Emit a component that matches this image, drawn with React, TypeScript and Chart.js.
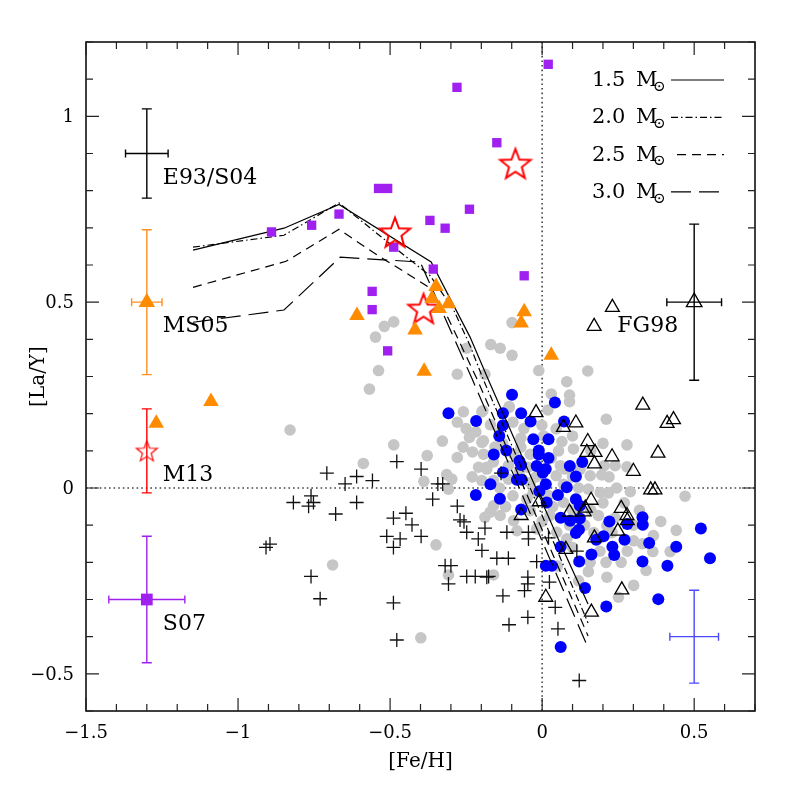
import { useEffect, useRef } from "react";
import { Chart, registerables } from "chart.js";

Chart.register(...registerables);

type XY = [number, number];

// ---------- axis ticks ----------
const xMajorTicks = [-1.5, -1, -0.5, 0, 0.5];
const xTickLabels = ["\u22121.5", "\u22121", "\u22120.5", "0", "0.5"];
const yMajorTicks = [-0.5, 0, 0.5, 1];
const yTickLabels = ["\u22120.5", "0", "0.5", "1"];

// ---------- data ----------
const greyStars: XY[] = [
  [-0.099, 0.445], [-0.488, 0.447], [-0.519, 0.435], [-0.548, 0.406], [-0.169, 0.386], [-0.138, 0.376],
  [-0.249, 0.376], [-0.099, 0.357], [-0.538, 0.316], [-0.279, 0.306], [-0.188, 0.306], [-0.011, 0.316],
  [-0.568, 0.266], [-0.109, 0.217], [-0.259, 0.205], [-0.198, 0.205], [-0.279, 0.177], [-0.218, 0.151],
  [-0.239, 0.136], [-0.198, 0.123], [-0.328, 0.126], [-0.488, 0.116], [-0.229, 0.097], [-0.378, 0.087],
  [-0.279, 0.082], [-0.588, 0.066], [-0.209, 0.056], [-0.182, 0.056], [-0.314, 0.036], [-0.297, 0.024],
  [-0.389, 0.018], [-0.198, 0.02], [-0.829, 0.156], [-0.308, -0.003], [-0.188, -0.079], [-0.171, -0.065],
  [-0.349, -0.153], [-0.689, -0.207], [-0.308, -0.234], [-0.16, -0.234], [-0.399, -0.403],
  [0.15, 0.315], [0.081, 0.286], [0.03, 0.253], [0.09, 0.25], [0.09, 0.232], [-0.195, 0.208],
  [-0.108, 0.219], [0.019, 0.21], [0.211, 0.185], [-0.096, 0.177], [-0.001, 0.169], [0.046, 0.159],
  [0.279, 0.116], [-0.193, 0.127], [-0.07, 0.134], [0.065, 0.125], [0.103, 0.105], [-0.193, 0.091],
  [0.054, 0.1], [-0.094, 0.091], [-0.039, 0.091], [0.24, 0.06], [0.204, 0.06], [0.279, 0.057],
  [-0.182, 0.051], [-0.111, 0.06], [0.076, 0.051], [0.125, 0.051], [-0.047, 0.056], [0.046, 0.033],
  [0.158, 0.033], [0.196, 0.035], [-0.111, 0.024], [-0.039, 0.015], [-0.096, -0.021], [-0.029, -0.012],
  [0.152, -0.003], [0.191, -0.012], [0.218, -0.013], [0.07, -0.039], [-0.16, -0.048], [-0.138, -0.074],
  [-0.094, -0.088], [-0.039, -0.061], [0.026, -0.074], [0.185, -0.074], [0.213, -0.101], [0.301, -0.142],
  [0.441, -0.114], [0.366, -0.128], [0.364, -0.171], [0.421, -0.171], [-0.083, -0.115], [-0.018, -0.11],
  [0.048, -0.119], [0.081, -0.137], [0.158, -0.2], [0.47, -0.022], [0.342, -0.222], [0.213, -0.24],
  [0.152, -0.225], [0.301, -0.262], [0.251, -0.294],
  [-0.13, 0.12], [-0.155, 0.11], [-0.06, 0.16], [0.005, 0.14], [-0.075, 0.045], [-0.16, 0.02],
  [-0.14, 0.0], [-0.05, -0.03], [-0.12, -0.05], [0.0, -0.09], [0.035, -0.05], [0.1, -0.06],
  [0.14, -0.1], [0.17, -0.12], [0.23, -0.12], [0.26, -0.2], [0.1, -0.16], [0.19, -0.17],
  [0.05, -0.21], [0.12, -0.25], [0.27, -0.04], [0.32, -0.06], [0.07, 0.01], [0.12, 0.0],
  [0.245, 0.0], [0.29, -0.01], [-0.02, 0.03], [0.03, 0.08], [0.16, 0.1], [0.2, 0.12], [0.1, 0.14],
  [-0.25, 0.16], [-0.17, 0.17], [-0.14, 0.15], [-0.26, 0.11], [-0.16, 0.07], [-0.23, 0.03],
  [-0.07, 0.11], [0.06, 0.06], [0.02, -0.02], [0.09, -0.1], [0.2, -0.04], [0.16, -0.06],
  [0.24, -0.08], [0.3, -0.1], [0.33, -0.15], [0.21, -0.2], [0.28, -0.17], [0.39, -0.09],
  [0.1, 0.03], [0.22, 0.03],
];

const blueStars: XY[] = [
  [-0.099, 0.251], [0.042, 0.23], [-0.308, 0.201], [-0.217, 0.18], [-0.129, 0.201], [-0.069, 0.201],
  [-0.038, 0.179], [0.072, 0.179], [-0.129, 0.169], [-0.141, 0.14], [-0.029, 0.131], [0.021, 0.131],
  [-0.118, 0.101], [-0.011, 0.101], [-0.159, 0.09], [-0.011, 0.09], [0.021, 0.081], [-0.075, 0.073],
  [-0.069, 0.062], [0.132, 0.07], [0.091, 0.059], [-0.018, 0.059], [0.012, 0.051], [-0.129, 0.042],
  [0.002, 0.041], [0.111, 0.031], [-0.083, 0.022], [-0.067, 0.022], [0.012, 0.01], [-0.17, 0.01],
  [0.081, 0.002], [-0.009, -0.009], [-0.139, -0.029], [-0.218, -0.019], [0.052, -0.019], [0.111, -0.03],
  [0.015, -0.039], [0.124, -0.048], [-0.069, -0.058], [0.061, -0.08], [0.092, -0.088], [0.124, -0.082],
  [0.121, -0.112], [0.111, -0.121], [0.221, -0.09], [0.28, -0.097], [0.33, -0.079], [0.331, -0.099],
  [0.271, -0.139], [0.202, -0.13], [0.178, -0.139], [0.352, -0.148], [0.231, -0.158], [0.441, -0.158],
  [0.061, -0.158], [0.162, -0.179], [0.237, -0.18], [0.122, -0.198], [0.33, -0.198], [0.412, -0.209],
  [0.012, -0.209], [0.032, -0.209], [0.522, -0.109], [0.552, -0.189], [0.141, -0.269], [0.382, -0.299],
  [0.211, -0.319], [0.061, -0.428],
];

const plusStars: XY[] = [
  [-0.478, 0.071], [-0.708, 0.04], [-0.61, 0.031], [-0.558, 0.02], [-0.648, 0.011], [-0.398, 0.051],
  [-0.343, 0.011], [-0.327, 0.011], [-0.36, -0.03], [-0.76, -0.021], [-0.752, -0.039], [-0.768, -0.049],
  [-0.818, -0.039], [-0.61, -0.039], [-0.679, -0.07], [-0.279, -0.049], [-0.489, -0.081], [-0.448, -0.068],
  [-0.428, -0.099], [-0.27, -0.086], [-0.257, -0.091], [-0.248, -0.119], [-0.188, -0.108], [-0.511, -0.13],
  [-0.467, -0.137], [-0.398, -0.13], [-0.489, -0.16], [-0.21, -0.137], [-0.198, -0.168], [-0.895, -0.151],
  [-0.908, -0.16], [-0.149, -0.189], [-0.319, -0.209], [-0.3, -0.209], [-0.76, -0.238], [-0.248, -0.238],
  [-0.22, -0.238], [-0.176, -0.238], [-0.308, -0.258], [-0.73, -0.298], [-0.489, -0.309], [-0.478, -0.409],
  [-0.111, -0.189], [-0.018, -0.198], [-0.182, -0.24], [-0.047, -0.24], [-0.047, -0.258], [-0.058, -0.276],
  [0.024, -0.253], [-0.129, -0.29], [0.043, -0.321], [-0.047, -0.348], [-0.109, -0.368], [0.052, -0.379],
  [0.122, -0.518], [0.114, -0.17], [-0.135, 0.04], [-0.116, -0.119], [-0.045, -0.119], [-0.045, -0.137],
  [0.021, -0.134],
];

const fg98Stars: XY[] = [
  [-0.02, 0.203], [0.331, 0.223], [0.411, 0.174], [0.432, 0.184], [0.07, 0.163], [0.111, 0.175],
  [0.15, 0.125], [0.147, 0.096], [0.174, 0.096], [0.172, 0.065], [0.23, 0.084], [0.381, 0.094],
  [0.3, 0.045], [0.357, -0.005], [0.371, -0.005], [-0.009, -0.037], [0.161, -0.033], [-0.069, -0.074],
  [0.09, -0.065], [0.138, -0.064], [0.142, -0.054], [0.26, -0.055], [0.279, -0.074], [0.28, -0.088],
  [0.249, -0.116], [0.172, -0.134], [0.078, -0.165], [0.262, -0.274], [0.012, -0.294], [0.162, -0.334],
  [0.231, 0.486], [0.171, 0.435],
];

const ms05Stars: XY[] = [
  [-1.269, 0.174], [-1.089, 0.233], [-0.609, 0.464], [-0.418, 0.425], [-0.388, 0.314], [-0.349, 0.542],
  [-0.362, 0.51], [-0.308, 0.496], [-0.339, 0.483], [-0.059, 0.474], [-0.069, 0.444], [0.03, 0.357],
];

const s07Stars: XY[] = [
  [0.02, 1.14], [-0.28, 1.078], [-0.149, 0.929], [-0.538, 0.806], [-0.508, 0.806], [-0.668, 0.737],
  [-0.758, 0.707], [-0.89, 0.689], [-0.369, 0.72], [-0.319, 0.699], [-0.239, 0.75], [-0.488, 0.648],
  [-0.358, 0.589], [-0.059, 0.571], [-0.559, 0.529], [-0.559, 0.48], [-0.508, 0.369],
];

const m13Stars: XY[] = [
  [-0.484, 0.688], [-0.088, 0.873], [-0.39, 0.483],
];

// AGB model curves
const model15: XY[] = [
  [-1.148, 0.64], [-0.849, 0.699], [-0.668, 0.763], [-0.365, 0.608], [-0.237, 0.406],
  [-0.178, 0.293], [0.053, -0.137], [0.151, -0.312],
];
const model20: XY[] = [
  [-1.148, 0.648], [-0.849, 0.68], [-0.668, 0.767], [-0.478, 0.642], [-0.368, 0.571],
  [-0.292, 0.481], [-0.237, 0.383], [-0.194, 0.293], [0.033, -0.137], [0.151, -0.363],
];
const model25: XY[] = [
  [-1.148, 0.54], [-0.842, 0.61], [-0.668, 0.696], [-0.556, 0.634], [-0.378, 0.543],
  [-0.312, 0.462], [-0.214, 0.293], [0.013, -0.137], [0.151, -0.398],
];
const model30: XY[] = [
  [-1.148, 0.446], [-1.076, 0.454], [-0.849, 0.479], [-0.664, 0.621], [-0.401, 0.608],
  [-0.23, 0.293], [-0.003, -0.137], [0.151, -0.43],
];
const modelLabels = ["1.5", "2.0", "2.5", "3.0"];

// typical error bars: label, centre, half-widths
const errNames = ["E93/S04", "MS05", "M13", "S07", "FG98", ""];
const errX = [-1.3, -1.3, -1.3, -1.3, 0.5, 0.5];
const errY = [0.9, 0.5, 0.1, -0.3, 0.5, -0.4];
const errDx = [0.07, 0.05, 0, 0.125, 0.09, 0.08];
const errDy = [0.12, 0.195, 0.113, 0.17, 0.21, 0.125];

// ---------- styles ----------
const errColors = ["#000000", "#ff9020", "#ff0000", "#a020f0", "#000000", "#4a4aff"];
const FONT = '"DejaVu Serif", "DejaVu Sans", serif';

const toPts = (a: XY[]) => a.map(([x, y]) => ({ x, y }));

function makeStar(R: number, lw: number, color: string): HTMLCanvasElement {
  const size = Math.ceil(2 * R + 2 * lw + 4);
  const c = document.createElement("canvas");
  c.width = size;
  c.height = size;
  const g = c.getContext("2d")!;
  const cx = size / 2;
  const cy = size / 2 + R * 0.09;
  const r = R * 0.42;
  g.beginPath();
  for (let i = 0; i < 10; i++) {
    const ang = -Math.PI / 2 + (i * Math.PI) / 5;
    const rr = i % 2 === 0 ? R : r;
    const px = cx + rr * Math.cos(ang);
    const py = cy + rr * Math.sin(ang);
    if (i === 0) g.moveTo(px, py);
    else g.lineTo(px, py);
  }
  g.closePath();
  g.lineJoin = "miter";
  g.strokeStyle = color;
  g.lineWidth = lw;
  g.stroke();
  return c;
}

const decorPlugin = {
  id: "decor",
  beforeDatasetsDraw(chart: any) {
    const { ctx, chartArea: a, scales } = chart;
    const xs = scales.x;
    const ys = scales.y;
    ctx.save();
    // dotted zero lines
    ctx.strokeStyle = "#444";
    ctx.lineWidth = 1.6;
    ctx.setLineDash([1.6, 3]);
    const x0 = xs.getPixelForValue(0);
    const y0 = ys.getPixelForValue(0);
    ctx.beginPath();
    ctx.moveTo(x0, a.top);
    ctx.lineTo(x0, a.bottom);
    ctx.moveTo(a.left, y0);
    ctx.lineTo(a.right, y0);
    ctx.stroke();
    ctx.setLineDash([]);
    // error bars
    for (let i = 0; i < errX.length; i++) {
      ctx.strokeStyle = errColors[i];
      ctx.lineWidth = 1.4;
      const cx = xs.getPixelForValue(errX[i]);
      const cy = ys.getPixelForValue(errY[i]);
      const top = ys.getPixelForValue(errY[i] + errDy[i]);
      const bot = ys.getPixelForValue(errY[i] - errDy[i]);
      ctx.beginPath();
      ctx.moveTo(cx, top);
      ctx.lineTo(cx, bot);
      ctx.moveTo(cx - 5, top);
      ctx.lineTo(cx + 5, top);
      ctx.moveTo(cx - 5, bot);
      ctx.lineTo(cx + 5, bot);
      if (errDx[i] > 0) {
        const l = xs.getPixelForValue(errX[i] - errDx[i]);
        const r = xs.getPixelForValue(errX[i] + errDx[i]);
        ctx.moveTo(l, cy);
        ctx.lineTo(r, cy);
        ctx.moveTo(l, cy - 4);
        ctx.lineTo(l, cy + 4);
        ctx.moveTo(r, cy - 4);
        ctx.lineTo(r, cy + 4);
      }
      ctx.stroke();
    }
    ctx.restore();
  },
  afterDraw(chart: any) {
    const { ctx, chartArea: a, scales } = chart;
    const xs = scales.x;
    const ys = scales.y;
    ctx.save();
    // frame
    ctx.strokeStyle = "#000";
    ctx.lineWidth = 1.5;
    ctx.strokeRect(a.left, a.top, a.right - a.left, a.bottom - a.top);
    // ticks
    ctx.lineWidth = 1.2;
    ctx.strokeStyle = "#222";
    ctx.beginPath();
    for (let k = -15; k <= 7; k++) {
      const v = k / 10;
      const px = xs.getPixelForValue(v);
      const len = k % 5 === 0 ? 13 : 7;
      ctx.moveTo(px, a.bottom);
      ctx.lineTo(px, a.bottom - len);
      ctx.moveTo(px, a.top);
      ctx.lineTo(px, a.top + len);
    }
    for (let k = -6; k <= 12; k++) {
      const v = k / 10;
      const py = ys.getPixelForValue(v);
      const len = k % 5 === 0 ? 13 : 7;
      ctx.moveTo(a.left, py);
      ctx.lineTo(a.left + len, py);
      ctx.moveTo(a.right, py);
      ctx.lineTo(a.right - len, py);
    }
    ctx.stroke();

    // tick labels
    ctx.fillStyle = "#000";
    ctx.font = `18px ${FONT}`;
    ctx.textAlign = "center";
    ctx.textBaseline = "alphabetic";
    xMajorTicks.forEach((v, i) => {
      ctx.fillText(xTickLabels[i], xs.getPixelForValue(v), a.bottom + 27);
    });
    ctx.textAlign = "right";
    ctx.textBaseline = "middle";
    yMajorTicks.forEach((v, i) => {
      ctx.fillText(yTickLabels[i], a.left - 12, ys.getPixelForValue(v) + 1);
    });

    // axis titles
    ctx.font = `20px ${FONT}`;
    ctx.textAlign = "center";
    ctx.textBaseline = "alphabetic";
    ctx.fillText("[Fe/H]", (a.left + a.right) / 2, a.bottom + 56);
    ctx.save();
    ctx.translate(a.left - 47, (a.top + a.bottom) / 2);
    ctx.rotate(-Math.PI / 2);
    ctx.textBaseline = "middle";
    ctx.fillText("[La/Y]", 0, 0);
    ctx.restore();

    // error bar labels
    ctx.font = `22px ${FONT}`;
    ctx.textBaseline = "alphabetic";
    errNames.forEach((name, i) => {
      if (!name) return;
      const cx = xs.getPixelForValue(errX[i]);
      const cy = ys.getPixelForValue(errY[i]);
      if (errX[i] > 0) {
        ctx.textAlign = "right";
        ctx.fillText(name, cx - 16, cy + 30);
      } else {
        ctx.textAlign = "left";
        ctx.fillText(name, cx + 16, cy + 30);
      }
    });

    // model legend
    const dashes = [[], [7, 3, 1.5, 3], [9, 6], [20, 8]];
    modelLabels.forEach((lab, i) => {
      const ly = a.top + 38 + i * 37.3;
      ctx.fillStyle = "#000";
      ctx.font = `21px ${FONT}`;
      ctx.textAlign = "left";
      ctx.textBaseline = "alphabetic";
      ctx.fillText(lab, 592, ly + 6);
      ctx.fillText("M", 636, ly + 6);
      ctx.font = `15px ${FONT}`;
      ctx.textBaseline = "middle";
      ctx.fillText("\u2299", 653, ly + 7);
      ctx.strokeStyle = "#000";
      ctx.lineWidth = 1.2;
      ctx.setLineDash(dashes[i]);
      ctx.beginPath();
      ctx.moveTo(i === 2 ? 677 : 671, ly);
      ctx.lineTo(724, ly);
      ctx.stroke();
      ctx.setLineDash([]);
    });
    ctx.restore();
  },
};

export default function App() {
  const ref = useRef<HTMLCanvasElement | null>(null);

  useEffect(() => {
    if (!ref.current) return;
    const bigStar = makeStar(16, 2, "#ff0000");
    const smallStar = makeStar(11, 1.2, "#ff0000");

    const modelDs = (d: XY[], dash: number[]) => ({
      data: toPts(d),
      showLine: true,
      borderColor: "#000",
      borderWidth: 1.2,
      borderDash: dash,
      pointRadius: 0,
      tension: 0,
      fill: false,
      order: 8,
    });

    const chart = new Chart(ref.current, {
      type: "scatter",
      data: {
        datasets: [
          {
            data: toPts(greyStars),
            pointStyle: "circle",
            pointRadius: 5.8,
            backgroundColor: "#c6c6c6",
            borderColor: "#c6c6c6",
            borderWidth: 0,
            order: 10,
          },
          {
            data: toPts(blueStars),
            pointStyle: "circle",
            pointRadius: 6,
            backgroundColor: "#0000ff",
            borderColor: "#0000ff",
            borderWidth: 0,
            order: 9,
          },
          modelDs(model15, []),
          modelDs(model20, [7, 3, 1.5, 3]),
          modelDs(model25, [9, 6]),
          modelDs(model30, [20, 8]),
          {
            data: toPts(plusStars),
            pointStyle: "cross",
            pointRadius: 7,
            borderColor: "#111",
            borderWidth: 1.3,
            backgroundColor: "#111",
            order: 7,
          },
          {
            data: toPts(fg98Stars),
            pointStyle: "triangle",
            pointRadius: 8,
            borderColor: "#000",
            borderWidth: 1.3,
            backgroundColor: "rgba(0,0,0,0)",
            order: 6,
          },
          {
            data: toPts(s07Stars),
            pointStyle: "rect",
            pointRadius: 6.6,
            borderWidth: 0,
            backgroundColor: "#a020f0",
            borderColor: "#a020f0",
            order: 5,
          },
          {
            data: toPts(m13Stars),
            pointStyle: bigStar,
            pointRadius: 16,
            order: 4,
          },
          {
            data: toPts(ms05Stars),
            pointStyle: "triangle",
            pointRadius: 9,
            borderWidth: 0,
            backgroundColor: "#ff8c00",
            borderColor: "#ff8c00",
            order: 3,
          },
          // markers at the typical error bars
          {
            data: [{ x: errX[1], y: errY[1] }],
            pointStyle: "triangle",
            pointRadius: 9.5,
            borderWidth: 0,
            backgroundColor: "#ff8c00",
            order: 2,
          },
          {
            data: [{ x: errX[2], y: errY[2] }],
            pointStyle: smallStar,
            pointRadius: 11,
            order: 2,
          },
          {
            data: [{ x: errX[3], y: errY[3] }],
            pointStyle: "rect",
            pointRadius: 8.3,
            borderWidth: 0,
            backgroundColor: "#a020f0",
            order: 2,
          },
          {
            data: [{ x: errX[4], y: errY[4] }],
            pointStyle: "triangle",
            pointRadius: 9,
            borderWidth: 1.3,
            borderColor: "#000",
            backgroundColor: "rgba(0,0,0,0)",
            order: 2,
          },
        ] as any,
      },
      options: {
        animation: false,
        responsive: false,
        devicePixelRatio: 1,
        events: [],
        layout: { padding: { left: 86, top: 42, right: 42, bottom: 86 } },
        scales: {
          x: { type: "linear", min: -1.5, max: 0.7, display: false },
          y: { type: "linear", min: -0.6, max: 1.2, display: false },
        },
        plugins: {
          legend: { display: false },
          tooltip: { enabled: false },
        },
      } as any,
      plugins: [decorPlugin],
    });
    return () => chart.destroy();
  }, []);

  return (
    <div style={{ position: "absolute", left: 0, top: 0, width: 797, height: 797, background: "#fff" }}>
      <canvas ref={ref} width={797} height={797} style={{ display: "block" }} />
    </div>
  );
}
